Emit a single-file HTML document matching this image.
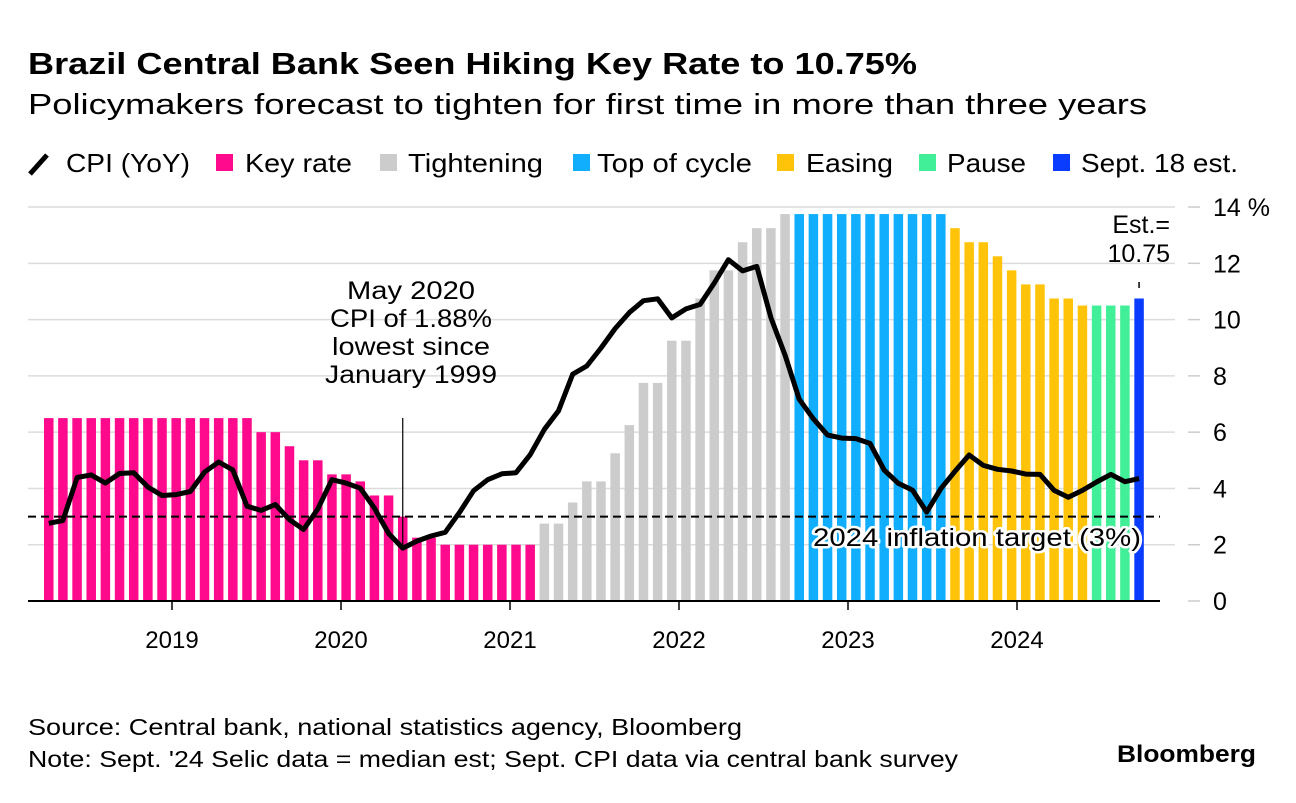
<!DOCTYPE html>
<html><head><meta charset="utf-8"><style>
body{margin:0;background:#fff;width:1296px;height:798px;overflow:hidden;font-family:"Liberation Sans",Arial,sans-serif}
svg text{font-family:"Liberation Sans",Arial,sans-serif}
</style></head><body>
<svg id="chart" width="1296" height="798" xmlns="http://www.w3.org/2000/svg">
<text x="28" y="74" font-size="31" font-weight="bold" fill="#000" textLength="889" lengthAdjust="spacingAndGlyphs">Brazil Central Bank Seen Hiking Key Rate to 10.75%</text>
<text x="28" y="114" font-size="29" fill="#000" textLength="1119" lengthAdjust="spacingAndGlyphs">Policymakers forecast to tighten for first time in more than three years</text>
<g id="legend"></g>
<g id="grid"></g><g id="bars"></g><g id="overlay"></g>
<text x="28" y="735" font-size="23" fill="#000" textLength="714" lengthAdjust="spacingAndGlyphs">Source: Central bank, national statistics agency, Bloomberg</text>
<text x="28" y="767" font-size="23" fill="#000" textLength="930" lengthAdjust="spacingAndGlyphs">Note: Sept. '24 Selic data = median est; Sept. CPI data via central bank survey</text>
<text x="1256" y="762" font-size="24" font-weight="bold" text-anchor="end" fill="#000" textLength="139" lengthAdjust="spacingAndGlyphs">Bloomberg</text>
</svg>
<script>
// Months Apr 2018 .. Sep 2024
const keyRate = [6.5,6.5,6.5,6.5,6.5,6.5,6.5,6.5,6.5,
 6.5,6.5,6.5,6.5,6.5,6.5,6.0,6.0,5.5,5.0,5.0,4.5,
 4.5,4.25,3.75,3.75,3.0,2.25,2.25,2.0,2.0,2.0,2.0,2.0,
 2.0,2.0,2.75,2.75,3.5,4.25,4.25,5.25,6.25,7.75,7.75,9.25,
 9.25,10.75,11.75,11.75,12.75,13.25,13.25,13.75,13.75,13.75,13.75,13.75,
 13.75,13.75,13.75,13.75,13.75,13.75,13.75,13.25,12.75,12.75,12.25,11.75,
 11.25,11.25,10.75,10.75,10.5,10.5,10.5,10.5,10.75];
const phases = ["key","key","key","key","key","key","key","key","key",
 "key","key","key","key","key","key","key","key","key","key","key","key",
 "key","key","key","key","key","key","key","key","key","key","key","key",
 "key","key","tight","tight","tight","tight","tight","tight","tight","tight","tight","tight",
 "tight","tight","tight","tight","tight","tight","tight","tight","top","top","top","top",
 "top","top","top","top","top","top","top","ease","ease","ease","ease","ease",
 "ease","ease","ease","ease","ease","pause","pause","pause","est"];
const cpi = [2.76,2.86,4.39,4.48,4.19,4.53,4.56,4.05,3.75,
 3.78,3.89,4.58,4.94,4.66,3.37,3.22,3.43,2.89,2.54,3.27,4.31,
 4.19,4.01,3.30,2.40,1.88,2.13,2.31,2.44,3.14,3.92,4.31,4.52,
 4.56,5.20,6.10,6.76,8.06,8.35,8.99,9.68,10.25,10.67,10.74,10.06,
 10.38,10.54,11.30,12.13,11.73,11.89,10.07,8.73,7.17,6.47,5.90,5.79,
 5.77,5.60,4.65,4.18,3.94,3.16,3.99,4.61,5.19,4.82,4.68,4.62,
 4.51,4.50,3.93,3.69,3.93,4.23,4.50,4.24,4.35];
const yTicks = [0,2,4,6,8,10,12,14];
const yearLabels = ["2019","2020","2021","2022","2023","2024"];
const legendLabels = ["CPI (YoY)","Key rate","Tightening","Top of cycle","Easing","Pause","Sept. 18 est."];
const target = 3;

const colors={key:"#ff0a8c",tight:"#cccccc",top:"#10aefc",ease:"#ffc30a",pause:"#41ef98",est:"#0a3cff"};
const legendColors=[null,colors.key,colors.tight,colors.top,colors.ease,colors.pause,colors.est];
const legSwX=[28,216,380,573,777,919,1053], legTxX=[66,245,408,597,806,947,1081], legTxW=[124,107,135,155,87,79,157];
const NS="http://www.w3.org/2000/svg";
const mw=14.16, x0=44;
const xL=i=>x0+i*mw;
const xC=i=>xL(i)+4.75;
const y=v=>601-v*28.14;
function mk(tag,attrs,parent){const e=document.createElementNS(NS,tag);for(const k in attrs)e.setAttribute(k,attrs[k]);parent.appendChild(e);return e;}
const grid=document.getElementById('grid'),bars=document.getElementById('bars'),ov=document.getElementById('overlay'),lg=document.getElementById('legend');

legendLabels.forEach((t,i)=>{
  if(i===0){const l=mk('line',{x1:30,y1:174,x2:47,y2:155,stroke:'#000','stroke-width':5},lg);
    }
  else{const r=mk('rect',{x:legSwX[i],y:154,width:17,height:17,fill:legendColors[i]},lg);
    }
  const tx=mk('text',{x:legTxX[i],y:172,'font-size':26,fill:'#000',textLength:legTxW[i],lengthAdjust:'spacingAndGlyphs'},lg);tx.textContent=t;
  
});

yTicks.forEach(v=>{
  if(v>0){const g=mk('line',{x1:28,x2:1175,y1:y(v),y2:y(v),stroke:'#dcdcdc','stroke-width':1.5},grid);
    }
  const t=mk('line',{x1:1188,x2:1200,y1:y(v),y2:y(v),stroke:'#ccc','stroke-width':1.5},grid);
  
  const tx=mk('text',{x:1213,y:y(v)+9,'font-size':25,fill:'#000'},grid);tx.textContent=v+(v===14?' %':'');
  
});

keyRate.forEach((v,i)=>{
  const r=mk('rect',{x:xL(i),y:y(v),width:9.5,height:601-y(v),fill:colors[phases[i]]},bars);
  
});

const tl=mk('line',{x1:28,x2:1160,y1:y(target),y2:y(target),stroke:'#000','stroke-width':2,'stroke-dasharray':'8,5'},ov);


const al=mk('line',{x1:xC(25),x2:xC(25),y1:418,y2:y(cpi[25]),stroke:'#000','stroke-width':1.2},ov);


const pts=cpi.map((v,i)=>xC(i).toFixed(1)+','+y(v).toFixed(1)).join(' ');
const pl=mk('polyline',{points:pts,fill:'none',stroke:'#000','stroke-width':5,'stroke-linejoin':'round'},ov);


const bl=mk('line',{x1:28,x2:1160,y1:601,y2:601,stroke:'#000','stroke-width':2},ov);

yearLabels.forEach((t,k)=>{
  const xx=172+k*169;
  const tk=mk('line',{x1:xx,x2:xx,y1:601,y2:610,stroke:'#000','stroke-width':1.5},ov);
  
  const tx=mk('text',{x:xx,y:648,'font-size':24,'text-anchor':'middle',fill:'#000'},ov);tx.textContent=t;
  
});

const tlab=mk('text',{x:1141,y:546,'font-size':25,'text-anchor':'end',fill:'#000',stroke:'#fff','stroke-width':5,'paint-order':'stroke','stroke-linejoin':'round',textLength:328,lengthAdjust:'spacingAndGlyphs'},ov);
tlab.textContent='2024 inflation target (3%)';


[['May 2020',128],['CPI of 1.88%',162],['lowest since',158],['January 1999',172]].forEach((t,k)=>{
  const tx=mk('text',{x:411,y:299+k*28,'font-size':25,'text-anchor':'middle',fill:'#000',textLength:t[1],lengthAdjust:'spacingAndGlyphs'},ov);tx.textContent=t[0];
  
});
['Est.=','10.75'].forEach((t,k)=>{
  const tx=mk('text',{x:1170,y:233+k*29,'font-size':25,'text-anchor':'end',fill:'#000'},ov);tx.textContent=t;
  
});
const el=mk('line',{x1:xC(77),x2:xC(77),y1:282,y2:288,stroke:'#000','stroke-width':1.5},ov);

</script>
</body></html>
